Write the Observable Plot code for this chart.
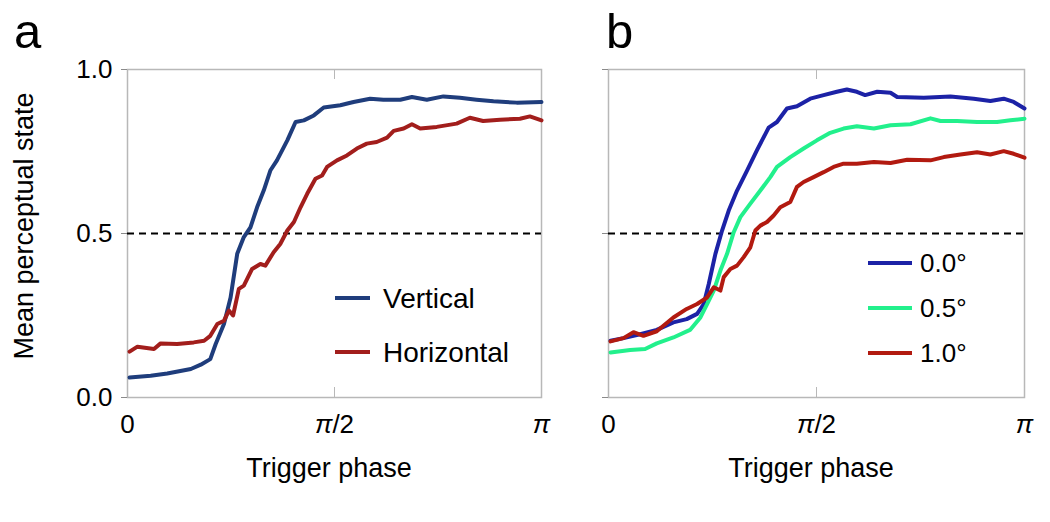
<!DOCTYPE html>
<html><head><meta charset="utf-8">
<script src="https://cdn.jsdelivr.net/npm/d3@7"></script>
<script src="https://cdn.jsdelivr.net/npm/@observablehq/plot@0.6"></script>
<style>
body{margin:0;background:#fff;font-family:"Liberation Sans",Arial,sans-serif;}
#wrap{position:relative;width:1050px;height:522px;overflow:hidden;background:#fff}
.abs{position:absolute;top:0}
</style></head><body><div id="wrap"></div>
<script>
// ---- data (x = trigger phase as a fraction of π, y = mean perceptual state) ----
const phaseTicks = [0, 0.5, 1];
const phaseTickLabels = ["0", "π/2", "π"];
const stateTicks = [0, 0.5, 1];
const stateTickLabels = ["0.0", "0.5", "1.0"];
const threshold = 0.5;
const xLabel = "Trigger phase";
const yLabel = "Mean perceptual state";
const panelLetters = ["a", "b"];

const seriesA = ["Vertical", "Horizontal"];
const colorsA = ["#1f3d7c", "#a21e1c"];
const verticalPts = [[0.005,0.061],[0.056,0.066],[0.096,0.073],[0.153,0.087],[0.177,0.10],[0.20,0.117],[0.213,0.163],[0.233,0.224],[0.249,0.305],[0.265,0.438],[0.281,0.489],[0.297,0.519],[0.313,0.58],[0.329,0.631],[0.345,0.692],[0.361,0.723],[0.386,0.784],[0.406,0.84],[0.426,0.845],[0.45,0.86],[0.474,0.884],[0.514,0.891],[0.546,0.901],[0.586,0.911],[0.618,0.908],[0.659,0.908],[0.687,0.916],[0.723,0.908],[0.763,0.918],[0.803,0.914],[0.843,0.908],[0.884,0.903],[0.94,0.899],[1.0,0.901]];
const horizontalPts = [[0.005,0.14],[0.024,0.155],[0.064,0.148],[0.08,0.165],[0.12,0.163],[0.16,0.168],[0.185,0.173],[0.2,0.188],[0.217,0.224],[0.233,0.234],[0.245,0.265],[0.255,0.25],[0.269,0.331],[0.281,0.341],[0.301,0.392],[0.321,0.407],[0.333,0.402],[0.353,0.443],[0.369,0.468],[0.386,0.509],[0.402,0.535],[0.418,0.58],[0.434,0.621],[0.454,0.667],[0.47,0.677],[0.482,0.703],[0.506,0.723],[0.53,0.738],[0.554,0.759],[0.578,0.774],[0.602,0.779],[0.627,0.792],[0.643,0.813],[0.667,0.82],[0.687,0.833],[0.707,0.82],[0.747,0.825],[0.795,0.835],[0.827,0.853],[0.859,0.843],[0.9,0.847],[0.948,0.85],[0.972,0.857],[1.0,0.845]];

const seriesB = ["0.0°", "0.5°", "1.0°"];
const colorsB = ["#1c22a6", "#22f08c", "#b21a10"];
const deg00Pts = [[0.005,0.173],[0.036,0.181],[0.076,0.193],[0.116,0.206],[0.156,0.229],[0.188,0.239],[0.213,0.255],[0.229,0.285],[0.241,0.346],[0.257,0.438],[0.273,0.509],[0.289,0.57],[0.309,0.631],[0.333,0.692],[0.357,0.754],[0.385,0.823],[0.405,0.84],[0.429,0.881],[0.453,0.888],[0.485,0.911],[0.517,0.922],[0.549,0.932],[0.573,0.939],[0.597,0.932],[0.617,0.922],[0.646,0.932],[0.678,0.929],[0.694,0.916],[0.758,0.914],[0.822,0.918],[0.878,0.911],[0.918,0.904],[0.95,0.911],[0.974,0.901],[1.0,0.881]];
const deg05Pts = [[0.005,0.137],[0.052,0.145],[0.088,0.148],[0.116,0.165],[0.156,0.183],[0.196,0.206],[0.221,0.244],[0.237,0.285],[0.253,0.326],[0.269,0.387],[0.285,0.438],[0.301,0.504],[0.317,0.55],[0.341,0.591],[0.365,0.631],[0.389,0.672],[0.405,0.703],[0.437,0.733],[0.469,0.759],[0.501,0.784],[0.533,0.807],[0.565,0.82],[0.597,0.827],[0.638,0.82],[0.678,0.83],[0.726,0.833],[0.774,0.851],[0.798,0.843],[0.838,0.843],[0.886,0.84],[0.934,0.84],[0.966,0.845],[1.0,0.85]];
const deg10Pts = [[0.005,0.171],[0.036,0.181],[0.06,0.199],[0.084,0.188],[0.116,0.202],[0.156,0.244],[0.188,0.27],[0.213,0.285],[0.237,0.305],[0.253,0.336],[0.269,0.326],[0.277,0.367],[0.293,0.392],[0.309,0.402],[0.325,0.428],[0.341,0.458],[0.353,0.509],[0.365,0.524],[0.381,0.535],[0.397,0.555],[0.413,0.58],[0.437,0.596],[0.453,0.642],[0.469,0.657],[0.493,0.672],[0.517,0.687],[0.541,0.703],[0.565,0.713],[0.597,0.713],[0.638,0.718],[0.678,0.715],[0.718,0.725],[0.774,0.723],[0.806,0.733],[0.846,0.741],[0.886,0.748],[0.918,0.741],[0.95,0.751],[0.974,0.743],[1.0,0.731]];

// ---- build ----
const FONT = '"Liberation Sans", Arial, Helvetica, sans-serif';
const toRows = (names, lists) => names.flatMap((s, i) => lists[i].map(([x, y]) => ({s, x, y})));
const fmtX = d => phaseTickLabels[phaseTicks.indexOf(d)];
const fmtY = d => stateTickLabels[stateTicks.indexOf(d)];

function panel({rows, series, colors, width, marginLeft, marginRight, showY}) {
  return Plot.plot({
    width, height: 522, marginTop: 69, marginBottom: 125, marginLeft, marginRight,
    style: {fontFamily: FONT, fontSize: "26px", color: "#000", background: "transparent", overflow: "visible"},
    x: {domain: [0, 1]},
    y: {domain: [0, 1]},
    color: {domain: series, range: colors},
    marks: [
      Plot.frame({stroke: "#b8b8b8", strokeWidth: 1.5}),
      Plot.axisY(stateTicks, {tickSize: 6, tickPadding: 9, stroke: "#8a8a8a", tickFormat: showY ? fmtY : () => "", label: null}),
      Plot.axisX(phaseTicks, {tickSize: 0, tickPadding: 17, tickFormat: fmtX, label: null}),
      Plot.tickX([phaseTicks[1]], {x: d => d, insetTop: 318, stroke: "#b8b8b8"}),
      Plot.tickX([phaseTicks[1]], {x: d => d, insetBottom: 318, stroke: "#b8b8b8"}),
      Plot.ruleY([threshold], {stroke: "#000", strokeWidth: 2, strokeDasharray: "7,5"}),
      Plot.line(rows, {x: "x", y: "y", z: "s", stroke: "s", strokeWidth: 4, strokeLinejoin: "round"})
    ]
  });
}

const wrap = document.getElementById("wrap");
const pa = panel({rows: toRows(seriesA, [verticalPts, horizontalPts]), series: seriesA, colors: colorsA,
  width: 560, marginLeft: 127, marginRight: 19, showY: true});
const pb = panel({rows: toRows(seriesB, [deg00Pts, deg05Pts, deg10Pts]), series: seriesB, colors: colorsB,
  width: 490, marginLeft: 48, marginRight: 26, showY: false});
pa.classList.add("abs"); pa.style.left = "0px";
pb.classList.add("abs"); pb.style.left = "560px";
wrap.appendChild(pa); wrap.appendChild(pb);

// italic π in tick labels
const ns = "http://www.w3.org/2000/svg";
for (const t of wrap.querySelectorAll("text")) {
  const s = t.textContent;
  if (s.includes("π") && t.children.length === 0) {
    t.textContent = "";
    const a = document.createElementNS(ns, "tspan");
    a.setAttribute("font-style", "italic");
    a.textContent = "π";
    t.appendChild(a);
    if (s.length > 1) { const b = document.createElementNS(ns, "tspan"); b.textContent = s.slice(1); t.appendChild(b); }
  }
}

// overlay: panel letters, axis titles, legends
const ov = document.createElementNS(ns, "svg");
ov.setAttribute("width", 1050); ov.setAttribute("height", 522);
ov.setAttribute("class", "abs"); ov.style.left = "0px"; ov.style.pointerEvents = "none";
ov.style.fontFamily = FONT;
function txt(str, x, y, size, opts = {}) {
  const t = document.createElementNS(ns, "text");
  t.setAttribute("x", x); t.setAttribute("y", y); t.setAttribute("font-size", size);
  for (const k in opts) t.setAttribute(k, opts[k]);
  t.textContent = str; ov.appendChild(t); return t;
}
function seg(x1, x2, y, color) {
  const l = document.createElementNS(ns, "line");
  l.setAttribute("x1", x1); l.setAttribute("x2", x2); l.setAttribute("y1", y); l.setAttribute("y2", y);
  l.setAttribute("stroke", color); l.setAttribute("stroke-width", 4); ov.appendChild(l);
}
txt(panelLetters[0], 14, 48, 49);
txt(panelLetters[1], 606, 48, 49);
txt(yLabel, 0, 0, 27, {"text-anchor": "middle", transform: "translate(33,226) rotate(-90)"});
txt(xLabel, 329, 477, 27, {"text-anchor": "middle"});
txt(xLabel, 811, 477, 27, {"text-anchor": "middle"});
seriesA.forEach((s, i) => { seg(335, 370, 298 + i * 54, colorsA[i]); txt(s, 383, 308 + i * 54, 28); });
seriesB.forEach((s, i) => { seg(868, 912, 263 + i * 45, colorsB[i]); txt(s, 920, 272 + i * 45, 26); });
wrap.appendChild(ov);
</script></body></html>
